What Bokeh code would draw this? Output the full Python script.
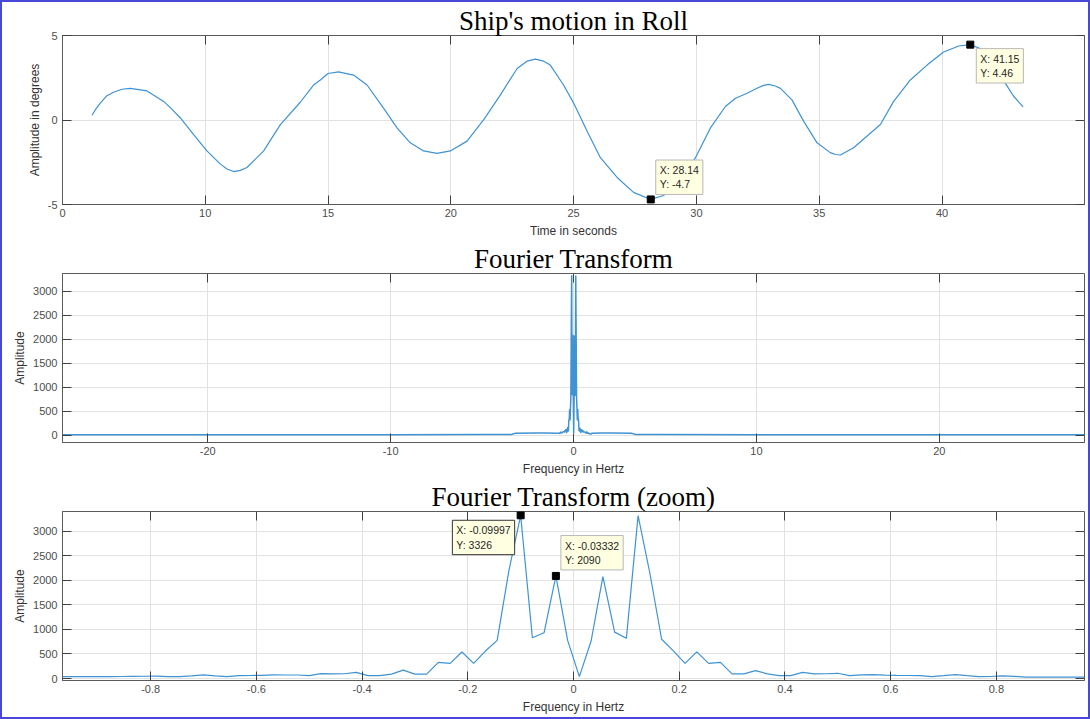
from bokeh.plotting import figure
from bokeh.layouts import column
from bokeh.models import FixedTicker, LinearAxis, Label
from bokeh.embed import file_html
from bokeh.resources import INLINE

# ---------------- data ----------------
# Ship's roll motion (time in s, amplitude in degrees)
roll_t = [5.39, 5.53, 5.73, 6.0, 6.27, 6.61, 6.95, 7.63, 8.31, 8.65, 8.99, 9.53, 10.07,
          10.62, 10.89, 11.16, 11.43, 11.70, 12.38, 13.06, 13.87, 14.41, 14.69, 15.0,
          15.43, 16.04, 16.59, 17.26, 17.81, 18.35, 18.89, 19.44, 19.98, 20.66, 21.34,
          22.02, 22.70, 23.10, 23.44, 23.78, 24.05, 24.59, 25.0, 25.55, 26.09, 26.77,
          27.44, 28.14, 28.66, 29.4, 29.96, 30.57, 31.18, 31.59, 32.06, 32.53, 32.74,
          32.94, 33.21, 33.42, 33.89, 34.37, 34.91, 35.45, 35.66, 35.86, 36.40, 36.95,
          37.49, 38.03, 38.71, 39.39, 40.06, 40.68, 41.15, 41.60, 42.10, 42.58, 42.92,
          43.30]
roll_deg = [0.28, 0.61, 1.0, 1.44, 1.64, 1.82, 1.87, 1.72, 1.10, 0.63, 0.12, -0.86, -1.83,
            -2.61, -2.90, -3.05, -2.98, -2.81, -1.83, -0.27, 1.05, 2.07, 2.37, 2.75,
            2.85, 2.66, 2.07, 0.70, -0.47, -1.35, -1.83, -1.97, -1.83, -1.25, 0.02,
            1.49, 3.05, 3.48, 3.60, 3.48, 3.25, 2.07, 1.0, -0.66, -2.23, -3.40,
            -4.28, -4.70, -4.47, -3.5, -2.23, -0.47, 0.80, 1.29, 1.58, 1.92, 2.05,
            2.11, 2.01, 1.87, 1.19, -0.08, -1.35, -1.93, -2.04, -2.07, -1.64, -0.95,
            -0.27, 1.10, 2.37, 3.25, 4.02, 4.38, 4.46, 4.20, 3.3, 2.17, 1.39,
            0.78]
roll_tip_x = [28.14, 41.15]
roll_tip_y = [-4.7, 4.46]
roll_tip_text = ["X: 28.14\nY: -4.7", "X: 41.15\nY: 4.46"]

# Spectrum, central part (Hz, amplitude)
freq_neg = [-0.9667, -0.9444, -0.9222, -0.9000, -0.8778, -0.8556, -0.8333, -0.8111,
            -0.7889, -0.7667, -0.7444, -0.7222, -0.7000, -0.6778, -0.6556, -0.6333,
            -0.6111, -0.5889, -0.5667, -0.5444, -0.5222, -0.5000, -0.4778, -0.4556,
            -0.4333, -0.4111, -0.3889, -0.3667, -0.3444, -0.3222, -0.3000, -0.2778,
            -0.2556, -0.2333, -0.2111, -0.1889, -0.1667, -0.1444, -0.1222, -0.1000,
            -0.0778, -0.0556, -0.0333, -0.0111]
amp_neg = [40, 40, 40, 40, 40, 42, 45, 47, 50, 38, 40, 55, 75, 55, 40, 60, 62, 65, 75,
           72, 72, 60, 100, 95, 98, 127, 60, 60, 90, 170, 90, 90, 329, 309, 540, 309,
           560, 778, 2200, 3326, 832, 933, 2090, 778]
freq_pos = [0.0111, 0.0333, 0.0556, 0.0778, 0.1000, 0.1222, 0.1444, 0.1667, 0.1889,
            0.2111, 0.2333, 0.2556, 0.2778, 0.3000, 0.3222, 0.3444, 0.3667, 0.3889,
            0.4111, 0.4333, 0.4556, 0.4778, 0.5000, 0.5222, 0.5444, 0.5667, 0.5889,
            0.6111, 0.6333, 0.6556, 0.6778, 0.7000, 0.7222, 0.7444, 0.7667, 0.7889,
            0.8111, 0.8333, 0.8556, 0.8778, 0.9000, 0.9222, 0.9444, 0.9667]
amp_pos = [40, 765, 2075, 946, 819, 3320, 2150, 800, 564, 309, 544, 309, 329, 94, 94,
           161, 94, 60, 60, 127, 94, 98, 107, 60, 75, 78, 70, 65, 62, 58, 40, 58, 78,
           58, 40, 42, 55, 45, 30, 30, 28, 28, 27, 27]
# Spectrum, outer parts (read coarsely from the full view)
freq_out_left = [-27.94, -20.0, -10.0, -5.0, -3.4, -3.2, -2.0, -1.5, -1.0]
amp_out_left = [12, 12, 12, 14, 16, 40, 45, 45, 42]
freq_out_right = [1.0, 1.5, 2.0, 3.2, 3.4, 5.0, 10.0, 20.0, 27.94]
amp_out_right = [40, 45, 45, 40, 16, 14, 12, 12, 12]
fft_tip_x = [-0.09997, -0.03332]
fft_tip_y = [3326, 2090]
fft_tip_text = ["X: -0.09997\nY: 3326", "X: -0.03332\nY: 2090"]

# ticks and tick labels
roll_xticks = [4.19, 10, 15, 20, 25, 30, 35, 40]
roll_xlabels = ["0", "10", "15", "20", "25", "30", "35", "40"]
roll_yticks = [-5, 0, 5]
roll_ylabels = ["-5", "0", "5"]
full_xticks = [-20, -10, 0, 10, 20]
full_xlabels = ["-20", "-10", "0", "10", "20"]
zoom_xticks = [-0.8, -0.6, -0.4, -0.2, 0, 0.2, 0.4, 0.6, 0.8]
zoom_xlabels = ["-0.8", "-0.6", "-0.4", "-0.2", "0", "0.2", "0.4", "0.6", "0.8"]
amp_yticks = [0, 500, 1000, 1500, 2000, 2500, 3000]
amp_ylabels = ["0", "500", "1000", "1500", "2000", "2500", "3000"]

# ---------------- styling ----------------
LINE = "#3f93d2"
BOX = "#5a5a5a"
SANS = "Liberation Sans"
SERIF = "Liberation Serif"
W = 1086


def make_fig(h, xr, yr, title, xticks, xlabels, yticks, ylabels, xlabel, ylabel, top, bottom):
    p = figure(width=W, height=h, x_range=xr, y_range=yr, output_backend="svg",
               toolbar_location=None, min_border_left=60, min_border_right=4,
               min_border_top=top, min_border_bottom=bottom,
               background_fill_color="white", border_fill_color="white",
               outline_line_color=BOX, outline_line_width=1)
    p.title.text = title
    p.title.text_font = SERIF
    p.title.text_font_size = "27px"
    p.title.text_font_style = "normal"
    p.title.text_color = "black"
    p.title.align = "center"
    p.title.standoff = 0
    for ax, ticks, labs, lab in ((p.xaxis[0], xticks, xlabels, xlabel),
                                 (p.yaxis[0], yticks, ylabels, ylabel)):
        ax.ticker = FixedTicker(ticks=ticks)
        ax.major_label_overrides = dict(zip(ticks, labs))
        ax.axis_label = lab
        ax.axis_label_text_font = SANS
        ax.axis_label_text_font_size = "12px"
        ax.axis_label_text_font_style = "normal"
        ax.axis_label_text_color = "#333333"
        ax.major_label_text_font = SANS
        ax.major_label_text_font_size = "11px"
        ax.major_label_text_color = "#4d4d4d"
        ax.major_tick_in = 9
        ax.major_tick_out = 0
        ax.major_tick_line_color = "#404040"
        ax.minor_tick_line_color = None
        ax.axis_line_color = BOX
    p.xaxis[0].major_label_standoff = 4
    p.xaxis[0].axis_label_standoff = 4
    p.yaxis[0].major_label_standoff = 5
    p.yaxis[0].axis_label_standoff = 3
    for loc, ticks in (("above", xticks), ("right", yticks)):
        ax = LinearAxis(ticker=FixedTicker(ticks=ticks), major_label_text_font_size="0px",
                        major_label_text_color=None, major_label_standoff=0,
                        major_tick_in=9, major_tick_out=0,
                        major_tick_line_color="#404040", minor_tick_line_color=None,
                        axis_line_color=None)
        p.add_layout(ax, loc)
    p.xgrid.ticker = FixedTicker(ticks=xticks)
    p.ygrid.ticker = FixedTicker(ticks=yticks)
    p.xgrid.grid_line_color = "#e2e2e2"
    p.ygrid.grid_line_color = "#e2e2e2"
    return p


def add_tip(p, x, y, text, anchor, dx, dy, border):
    p.add_layout(Label(x=x, y=y, text=text, anchor=anchor, x_offset=dx, y_offset=dy,
                       text_font=SANS, text_font_size="10.5px", text_color="#262626",
                       text_line_height=1.2, background_fill_color="#ffffe1",
                       border_line_color=border, border_line_width=1, padding=4))


# ---- top: roll motion ----
p1 = make_fig(238, (4.19, 45.8), (-5, 5), "Ship's motion in Roll",
              roll_xticks, roll_xlabels, roll_yticks, roll_ylabels,
              "Time in seconds", "Amplitude in degrees", 33, 35)
p1.line(roll_t, roll_deg, line_color=LINE, line_width=1.2)
p1.scatter(roll_tip_x, roll_tip_y, marker="square", size=7, color="black")
add_tip(p1, roll_tip_x[0], roll_tip_y[0], roll_tip_text[0], "bottom_left", 5, 5, "#b8b8b8")
add_tip(p1, roll_tip_x[1], roll_tip_y[1], roll_tip_text[1], "top_left", 6, -4, "#b8b8b8")

# ---- middle: full spectrum ----
full_f = freq_out_left + freq_neg + freq_pos + freq_out_right
full_a = amp_out_left + amp_neg + amp_pos + amp_out_right
p2 = make_fig(238, (-27.94, 27.94), (-150, 3364), "Fourier Transform",
              full_xticks, full_xlabels, amp_yticks, amp_ylabels,
              "Frequency in Hertz", "Amplitude", 33, 35)
p2.line(full_f, full_a, line_color=LINE, line_width=1.5)

# ---- bottom: zoomed spectrum ----
zoom_f = freq_neg + freq_pos
zoom_a = amp_neg + amp_pos
p3 = make_fig(239, (-0.9667, 0.9667), (-40, 3403), "Fourier Transform (zoom)",
              zoom_xticks, zoom_xlabels, amp_yticks, amp_ylabels,
              "Frequency in Hertz", "Amplitude", 33, 37)
p3.line(zoom_f, zoom_a, line_color=LINE, line_width=1.2)
p3.scatter(fft_tip_x, fft_tip_y, marker="square", size=7, color="black")
add_tip(p3, fft_tip_x[0], fft_tip_y[0], fft_tip_text[0], "top_right", -6, -5, "#333333")
add_tip(p3, fft_tip_x[1], fft_tip_y[1], fft_tip_text[1], "bottom_left", 5, 6, "#b8b8b8")

layout = column(p1, p2, p3, spacing=0, styles={"border": "2px solid #4848d8"})

open("out.html", "w").write(file_html(layout, INLINE))
